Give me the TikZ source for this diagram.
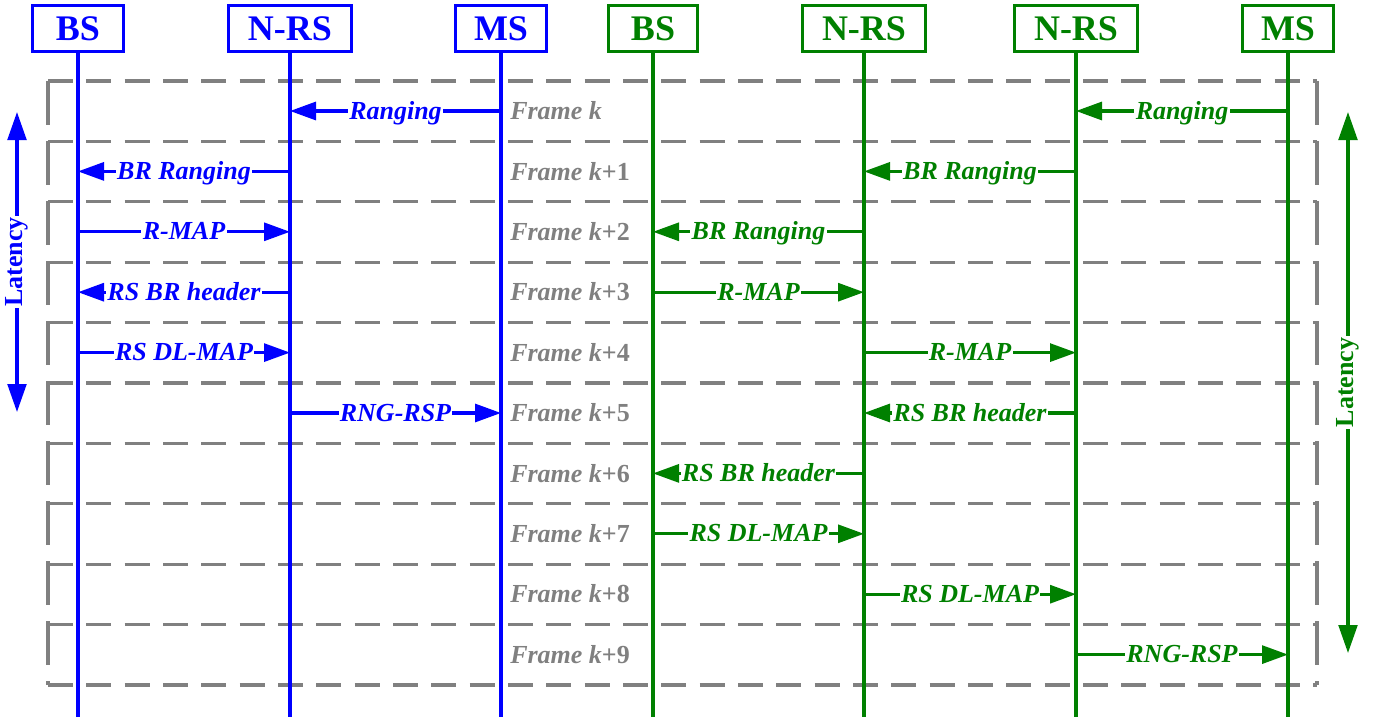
\documentclass[tikz,border=0pt]{standalone}
\usepackage{fontspec}
\setmainfont{Liberation Serif}
\usetikzlibrary{arrows.meta}
\definecolor{myblue}{RGB}{0,0,255}
\definecolor{mygreen}{RGB}{0,128,0}
\definecolor{mygray}{RGB}{128,128,128}
\begin{document}
\begin{tikzpicture}[x=0.75pt,y=-0.75pt,
  hdr/.style={draw, line width=2.2pt, font=\fontsize{27}{27}\selectfont\bfseries, minimum height=35pt, inner sep=0pt},
  life/.style={line width=2.3pt},
  msg/.style={line width=2.3pt, -{Triangle[length=19.5pt,width=13.5pt]}},
  mlab/.style={fill=white, inner sep=1pt, anchor=base, yshift=-6pt, font=\fontsize{19.5}{20}\selectfont\bfseries\itshape},
  frm/.style={text=mygray, inner sep=0pt, anchor=base west, yshift=-6.5pt, font=\fontsize{19.5}{20}\selectfont\bfseries},
  hgrid/.style={mygray, line width=2.4pt, dash pattern=on 18.75pt off 10pt},
  vgrid/.style={mygray, line width=2.4pt, dash pattern=on 33pt off 12pt},
  lat/.style={line width=2.4pt, {Triangle[length=21pt,width=14pt]}-{Triangle[length=21pt,width=14pt]}},
  latlab/.style={fill=white, inner sep=1pt, rotate=90, font=\fontsize{19.5}{20}\selectfont\bfseries}
]
\useasboundingbox (0,0) rectangle (1375,717);
\coordinate (bot) at (0,717);
% row centres
\foreach \i in {0,...,9} { \coordinate (r\i) at (0,{111+60.4*\i}); }
% grid
\foreach \i in {0,...,10} { \draw[hgrid] (48,{81+60.4*\i}) -- (1317,{81+60.4*\i}); }
\coordinate (gtl) at (48,81);
\coordinate (gbl) at (48,685);
\coordinate (gtr) at (1317,81);
\coordinate (gbr) at (1317,685);
\draw[vgrid] (gtl) -- (gbl);
\draw[vgrid] (gtr) -- (gbr);
% headers
\node[hdr, myblue, minimum width=68pt] (bs1) at (78,28.5) {BS};
\node[hdr, myblue, minimum width=92pt] (nrs1) at (290,28.5) {N-RS};
\node[hdr, myblue, minimum width=68pt] (ms1) at (501,28.5) {MS};
\node[hdr, mygreen, minimum width=67pt] (bs2) at (653,28.5) {BS};
\node[hdr, mygreen, minimum width=92pt] (nrsa) at (864,28.5) {N-RS};
\node[hdr, mygreen, minimum width=92pt] (nrsb) at (1076,28.5) {N-RS};
\node[hdr, mygreen, minimum width=68pt] (ms2) at (1288,28.5) {MS};
% lifelines
\foreach \n in {bs1,nrs1,ms1} { \draw[life, myblue] (\n.south) -- (\n.south |- bot); }
\foreach \n in {bs2,nrsa,nrsb,ms2} { \draw[life, mygreen] (\n.south) -- (\n.south |- bot); }
% frame labels
\node[frm] (f0) at (510,111) {\itshape Frame k};
\foreach \i in {1,...,9} { \node[frm] (f\i) at (510,{111+60.4*\i}) {{\itshape Frame k}+\i}; }
% blue messages
\draw[msg, myblue] (ms1 |- r0) -- node[mlab]{Ranging} (nrs1 |- r0);
\draw[msg, myblue] (nrs1 |- r1) -- node[mlab]{BR Ranging} (bs1 |- r1);
\draw[msg, myblue] (bs1 |- r2) -- node[mlab]{R-MAP} (nrs1 |- r2);
\draw[msg, myblue] (nrs1 |- r3) -- node[mlab]{RS BR header} (bs1 |- r3);
\draw[msg, myblue] (bs1 |- r4) -- node[mlab]{RS DL-MAP} (nrs1 |- r4);
\draw[msg, myblue] (nrs1 |- r5) -- node[mlab]{RNG-RSP} (ms1 |- r5);
% green messages
\draw[msg, mygreen] (ms2 |- r0) -- node[mlab]{Ranging} (nrsb |- r0);
\draw[msg, mygreen] (nrsb |- r1) -- node[mlab]{BR Ranging} (nrsa |- r1);
\draw[msg, mygreen] (nrsa |- r2) -- node[mlab]{BR Ranging} (bs2 |- r2);
\draw[msg, mygreen] (bs2 |- r3) -- node[mlab]{R-MAP} (nrsa |- r3);
\draw[msg, mygreen] (nrsa |- r4) -- node[mlab]{R-MAP} (nrsb |- r4);
\draw[msg, mygreen] (nrsb |- r5) -- node[mlab]{RS BR header} (nrsa |- r5);
\draw[msg, mygreen] (nrsa |- r6) -- node[mlab]{RS BR header} (bs2 |- r6);
\draw[msg, mygreen] (bs2 |- r7) -- node[mlab]{RS DL-MAP} (nrsa |- r7);
\draw[msg, mygreen] (nrsa |- r8) -- node[mlab]{RS DL-MAP} (nrsb |- r8);
\draw[msg, mygreen] (nrsb |- r9) -- node[mlab]{RNG-RSP} (ms2 |- r9);
% latency
\coordinate (lt1) at (17,112);
\coordinate (lb1) at (17,412);
\coordinate (lt2) at (1348,112);
\coordinate (lb2) at (1348,653);
\draw[lat, myblue] (lt1) -- node[latlab]{Latency} (lb1);
\draw[lat, mygreen] (lt2) -- node[latlab]{Latency} (lb2);
\end{tikzpicture}
\end{document}
